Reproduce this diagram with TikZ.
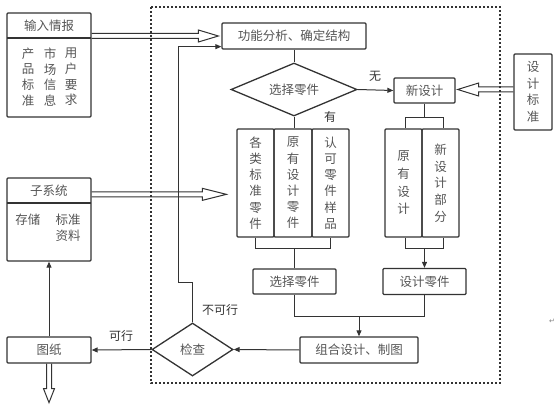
\documentclass[tikz,border=0pt]{standalone}
\usepackage{fontspec}
\newfontfamily\cjk{Noto Sans CJK SC}
\newfontfamily\djv{DejaVu Sans}
\usetikzlibrary{shapes.geometric,arrows.meta,calc}
\definecolor{linec}{HTML}{333333}
\definecolor{txtc}{HTML}{555555}
% hollow arrow: #1 start, #2 end, #3 ux, #4 uy, #5 head length, #6 head half width
\newcommand\hollowarrow[6]{%
  \draw[hollow] ($(#1)+({-2.5*(#4)},{2.5*(#3)})$)
    -- ($(#2)+({-(#5)*(#3)-2.5*(#4)},{-(#5)*(#4)+2.5*(#3)})$)
    -- ($(#2)+({-(#5)*(#3)-(#6)*(#4)},{-(#5)*(#4)+(#6)*(#3)})$)
    -- (#2)
    -- ($(#2)+({-(#5)*(#3)+(#6)*(#4)},{-(#5)*(#4)-(#6)*(#3)})$)
    -- ($(#2)+({-(#5)*(#3)+2.5*(#4)},{-(#5)*(#4)-2.5*(#3)})$)
    -- ($(#1)+({2.5*(#4)},{-2.5*(#3)})$);}
\begin{document}
\begin{tikzpicture}[x=1pt,y=-1pt,
  lc/.style={draw=linec, line width=1pt},
  arr/.style={-{Triangle[length=6pt,width=5pt]}},
  hollow/.style={draw=linec, line width=1pt, line join=miter},
  box/.style={draw=linec, line width=1.3pt, rounded corners=1pt, inner sep=0pt,
    text=txtc, align=center, font=\cjk\fontsize{12.5}{15}\selectfont},
  dia/.style={diamond, draw=linec, line width=1.3pt, inner sep=0pt, aspect=2.4,
    text=txtc, font=\cjk\fontsize{12.5}{15}\selectfont},
  txt/.style={inner sep=0pt, text=txtc, align=center, font=\cjk\fontsize{12.5}{15}\selectfont},
  lab/.style={inner sep=0pt, text=linec, font=\cjk\fontsize{12}{14}\selectfont}]
\useasboundingbox (0,0) rectangle (557,409);

% dashed frame
\draw[draw=linec, line width=1.2pt, dash pattern=on 2pt off 2pt] (151,7) rectangle (500,383);

% input box
\node[box, minimum width=84pt, minimum height=104pt] (inbox) at (49,65) {};
\draw[draw=linec, line width=1.3pt] (7,38) -- (91,38);
\node[txt] (intitle) at (49,25.5) {输入情报};
\node[txt, font=\cjk\fontsize{12.5}{15.7}\selectfont] (inb1) at (28,77) {产\\品\\标\\准};
\node[txt, font=\cjk\fontsize{12.5}{15.7}\selectfont] (inb2) at (50,77) {市\\场\\信\\息};
\node[txt, font=\cjk\fontsize{12.5}{15.7}\selectfont] (inb3) at (71,77) {用\\户\\要\\求};

% subsystem box
\node[box, minimum width=84pt, minimum height=83pt] (sub) at (49,219.5) {};
\draw[draw=linec, line width=1.3pt] (7,203) -- (91,203);
\node[txt] (subtitle) at (49,190.5) {子系统};
\node[txt] (subs1) at (28,220) {存储};
\node[txt, font=\cjk\fontsize{12.5}{16}\selectfont] (subs2) at (68,228) {标准\\资料};

% drawing box
\node[box, minimum width=84pt, minimum height=26pt] (dwg) at (49,350) {图纸};

% main flow
\node[box, minimum width=144pt, minimum height=26pt] (func) at (294,36) {功能分析、确定结构};
\node[dia, minimum width=126pt, minimum height=53pt] (sel1) at (294,89.5) {选择零件};
\node[box, minimum width=61pt, minimum height=25pt] (newd) at (424.5,90.5) {新设计};
\node[box, minimum width=38pt, minimum height=76pt, font=\cjk\fontsize{12.5}{16.7}\selectfont] (std) at (533,92) {设\\计\\标\\准};

\node[box, minimum width=37pt, minimum height=108pt, font=\cjk\fontsize{12.5}{16.2}\selectfont] (c1) at (255.5,183) {各\\类\\标\\准\\零\\件};
\node[box, minimum width=38pt, minimum height=108pt, font=\cjk\fontsize{12.5}{16.2}\selectfont] (c2) at (293,183) {原\\有\\设\\计\\零\\件};
\node[box, minimum width=37pt, minimum height=108pt, font=\cjk\fontsize{12.5}{16.2}\selectfont] (c3) at (330.5,183) {认\\可\\零\\件\\样\\品};

\node[box, minimum width=37pt, minimum height=108pt, font=\cjk\fontsize{12.5}{17.7}\selectfont] (r1) at (403.5,183) {原\\有\\设\\计};
\node[box, minimum width=37pt, minimum height=108pt, font=\cjk\fontsize{12.5}{16.7}\selectfont] (r2) at (440.5,183) {新\\设\\计\\部\\分};

\node[box, minimum width=83pt, minimum height=25pt] (sel2) at (294.5,281.5) {选择零件};
\node[box, minimum width=83pt, minimum height=26pt] (des) at (424.5,281.5) {设计零件};
\node[box, minimum width=118pt, minimum height=26pt] (comb) at (359,350) {组合设计、制图};
\node[dia, minimum width=81pt, minimum height=53pt] (chk) at (192.5,349.5) {检查};

% labels
\node[lab] (lwu) at (375,76) {无};
\node[lab] (lyou) at (330,117) {有};
\node[lab] (lbkx) at (220,310) {不可行};
\node[lab] (lkx) at (121,336) {可行};
\node[inner sep=0pt, text=gray, font=\djv\fontsize{7}{8}\selectfont] (pm) at (552,321) {↵};

% connectors
\draw[lc] (func.south) -- (sel1.north);
\draw[lc,arr] (sel1.east) -- (newd.west);
\draw[lc] (sel1.south) -- (sel1.south |- c2.north);

\coordinate (rb1) at ($(newd.south)+(0,14)$);
\coordinate (rb1l) at ($(rb1)+(-19,0)$);
\coordinate (rb1r) at ($(rb1)+(19,0)$);
\draw[lc] (newd.south) -- (rb1);
\draw[lc] (rb1l |- r1.north) -- (rb1l) -- (rb1r) -- (rb1r |- r2.north);

\coordinate (rb2) at ($(des.north |- r1.south)+(0,11)$);
\coordinate (rb2l) at ($(rb2)+(-19,0)$);
\coordinate (rb2r) at ($(rb2)+(19,0)$);
\draw[lc] (rb2l |- r1.south) -- (rb2l) -- (rb2r) -- (rb2r |- r2.south);
\draw[lc,arr] (rb2) -- (des.north);

\coordinate (lb) at ($(c1.south)+(0,11)$);
\draw[lc] (c1.south) -- (lb) -| (c3.south);
\draw[lc] (sel2.north |- lb) -- (sel2.north);

\coordinate (mj) at ($(sel2.south)+(0,22)$);
\draw[lc] (sel2.south) -- (mj) -| (des.south);
\draw[lc,arr] (mj -| comb.north) -- (comb.north);

\draw[lc,arr] (comb.west) -- (chk.east);
\coordinate (fb) at ($(func.south west)+(0,-3)$);
\draw[lc,arr] (chk.north) -- ++(0,-40) -- ++(-14.5,0) |- (fb);
\draw[lc,arr] (chk.west) -- (dwg.east);
\draw[lc,arr] (dwg.north) -- (sub.south);

% hollow arrows
\coordinate (h1s) at (inbox.east |- func.west);
\coordinate (h1e) at ($(func.west)+(-3,0)$);
\hollowarrow{h1s}{h1e}{1}{0}{20}{6}
\coordinate (h2s) at ($(sub.north east)+(0,17)$);
\coordinate (h2e) at ($(c1.west |- h2s)+(-10,0)$);
\hollowarrow{h2s}{h2e}{1}{0}{24}{6}
\coordinate (h3s) at ($(std.west |- newd.east)+(0,-1)$);
\coordinate (h3e) at ($(newd.east)+(2,-1)$);
\hollowarrow{h3s}{h3e}{-1}{0}{21}{6.5}
\coordinate (h4e) at ($(dwg.south)+(0,39)$);
\hollowarrow{dwg.south}{h4e}{0}{1}{14}{5.5}
\end{tikzpicture}
\end{document}
